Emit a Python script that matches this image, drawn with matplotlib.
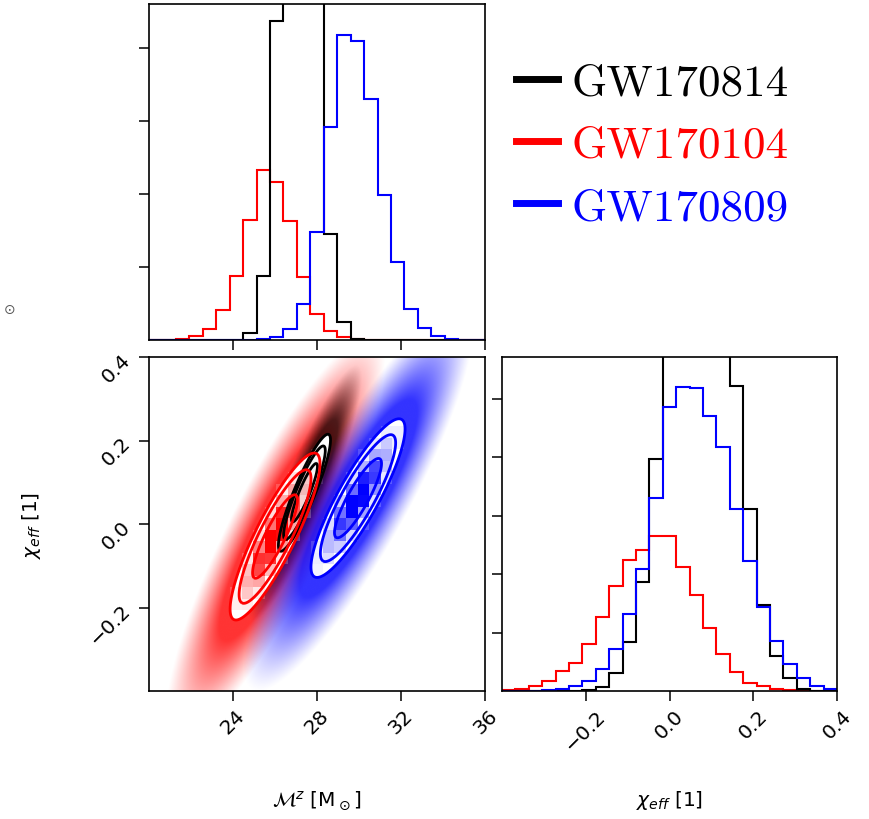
import numpy as np
import matplotlib.pyplot as plt
from matplotlib.colors import LinearSegmentedColormap, to_rgb
from matplotlib.lines import Line2D

# events, in legend order
events = ['GW170814', 'GW170104', 'GW170809']
colors = ['k', 'r', 'b']

# 1D marginals, 25 bins each (heights in units of the unlabeled ticks)
mass_edges = np.linspace(20, 36, 26)
chi_edges = np.linspace(-0.4, 0.4, 26)

mass_814 = [0, 0, 0, 0, 0, 0, 0, 0.09, 0.88, 4.37, 7.2, 8.2, 6.8, 1.45, 0.25, 0.02,
            0, 0, 0, 0, 0, 0, 0, 0, 0]
mass_104 = [0, 0.005, 0.02, 0.055, 0.155, 0.41, 0.88, 1.65, 2.33, 2.17, 1.63, 0.86, 0.35,
            0.12, 0.045, 0.01, 0, 0, 0, 0, 0, 0, 0, 0, 0]
mass_809 = [0, 0, 0, 0, 0, 0, 0, 0, 0.01, 0.045, 0.155, 0.50, 1.48, 2.92, 4.17, 4.10,
            3.30, 1.98, 1.07, 0.42, 0.17, 0.055, 0.02, 0.005, 0]

chi_814 = [0, 0, 0, 0, 0, 0, 0.02, 0.06, 0.31, 0.84, 1.87, 3.97, 7.0, 8.6, 9.2, 8.6, 7.2,
           5.21, 3.12, 1.47, 0.59, 0.23, 0.03, 0.005, 0]
chi_104 = [0.01, 0.04, 0.09, 0.17, 0.34, 0.48, 0.81, 1.27, 1.80, 2.24, 2.41, 2.65, 2.65,
           2.12, 1.64, 1.07, 0.64, 0.32, 0.14, 0.09, 0.04, 0.017, 0.01, 0.005, 0]
chi_809 = [0, 0, 0.005, 0.01, 0.04, 0.085, 0.17, 0.37, 0.71, 1.31, 2.08, 3.30, 4.85, 5.19,
           5.18, 4.71, 4.17, 3.12, 2.22, 1.43, 0.86, 0.46, 0.23, 0.086, 0.03]

mass_hists = [mass_814, mass_104, mass_809]
chi_hists = [chi_814, chi_104, chi_809]

# 2D posteriors: centre, spread, correlation
mean_mass = [27.4, 26.0, 29.95]
mean_chi = [0.075, -0.03, 0.062]
sd_mass = [0.62, 1.07, 1.12]
sd_chi = [0.07, 0.10, 0.095]
corr = [0.9, 0.87, 0.87]
cloud_reach = [4.4, 4.9, 4.9]

levels = [1.0, 1.6, 2.0]   # contour radii (sigma)

mass_ticks = [24, 28, 32, 36]
chi_ticks = [-0.2, 0.0, 0.2, 0.4]

plt.rcParams['axes.linewidth'] = 1.2
plt.rcParams['xtick.major.size'] = 7
plt.rcParams['ytick.major.size'] = 7
plt.rcParams['xtick.major.width'] = 1.1
plt.rcParams['ytick.major.width'] = 1.1
plt.rcParams['xtick.labelsize'] = 14.5
plt.rcParams['ytick.labelsize'] = 14.5


def mahal(M, C, i):
    dm = (M - mean_mass[i]) / sd_mass[i]
    dc = (C - mean_chi[i]) / sd_chi[i]
    return np.sqrt((dm**2 - 2 * corr[i] * dm * dc + dc**2) / (1 - corr[i]**2))


fig = plt.figure(figsize=(8.69, 8.2), dpi=100)
ax_m = fig.add_axes([0.1715, 0.5841, 0.3867, 0.4098])
ax_2d = fig.add_axes([0.1715, 0.1561, 0.3867, 0.4073])
ax_c = fig.add_axes([0.5777, 0.1561, 0.3855, 0.4073])

# marginal histograms
for i in [1, 0, 2]:
    ax_m.stairs(mass_hists[i], mass_edges, color=colors[i], lw=1.5)
    ax_c.stairs(chi_hists[i], chi_edges, color=colors[i], lw=1.5)

ax_m.set_xlim(20, 36)
ax_m.set_ylim(0, 4.6)
ax_m.set_xticks(mass_ticks)
ax_m.set_xticklabels([])
ax_m.set_yticks([1, 2, 3, 4])
ax_m.set_yticklabels([])

ax_c.set_xlim(-0.4, 0.4)
ax_c.set_ylim(0, 5.71)
ax_c.set_xticks(chi_ticks)
ax_c.set_xticklabels([f'{t:.1f}'.replace('-', '\u2212') for t in chi_ticks], rotation=45)
ax_c.set_yticks([1, 2, 3, 4, 5])
ax_c.set_yticklabels([])
ax_c.set_xlabel(r'$\chi_{eff}$ [1]', fontsize=14.5)
ax_c.xaxis.set_label_coords(0.5, -0.29)

# 2D panel
mg = np.linspace(20, 36, 561)
cg = np.linspace(-0.4, 0.4, 561)
M, C = np.meshgrid(mg, cg)

me = np.linspace(20, 36, 30)
ce = np.linspace(-0.4, 0.4, 30)
Mc, Cc = np.meshgrid(0.5 * (me[1:] + me[:-1]), 0.5 * (ce[1:] + ce[:-1]))

# sample clouds
for i in [1, 0, 2]:
    r = mahal(M, C, i)
    a = np.clip((cloud_reach[i] - r) / (cloud_reach[i] - 2.5), 0, 1) ** 1.2
    a = a * (0.7 if colors[i] == 'k' else 0.8)
    img = np.zeros(M.shape + (4,))
    img[..., :3] = to_rgb(colors[i])
    img[..., 3] = a
    ax_2d.imshow(img, origin='lower', extent=[20, 36, -0.4, 0.4], aspect='auto',
                 interpolation='bilinear', zorder=1)

# filled contours + density blocks
for i in [0, 1, 2]:
    r = mahal(M, C, i)
    ax_2d.contourf(M, C, r, levels=[0, levels[-1]], colors='white', zorder=2)
    rc = mahal(Mc, Cc, i)
    dens = np.exp(-0.5 * rc**2)
    dens[rc > 1.85] = np.nan
    cmap = LinearSegmentedColormap.from_list('d', [(1, 1, 1, 0), to_rgb(colors[i]) + (1,)])
    ax_2d.pcolormesh(me, ce, dens, cmap=cmap, vmin=0,
                     vmax=0.85 if colors[i] != 'k' else 3.0, zorder=3)

for i in [0, 1, 2]:
    r = mahal(M, C, i)
    ax_2d.contour(M, C, r, levels=levels, colors=colors[i], linewidths=2.0, zorder=4)

ax_2d.set_xlim(20, 36)
ax_2d.set_ylim(-0.4, 0.4)
ax_2d.set_xticks(mass_ticks)
ax_2d.set_xticklabels([str(t) for t in mass_ticks], rotation=45)
ax_2d.set_yticks(chi_ticks)
ax_2d.set_yticklabels([f'{t:.1f}'.replace('-', '\u2212') for t in chi_ticks], rotation=45)
ax_2d.set_xlabel(r'$\mathcal{M}^z$ [M$_\odot$]', fontsize=14.5)
ax_2d.xaxis.set_label_coords(0.5, -0.29)
ax_2d.set_ylabel(r'$\chi_{eff}$ [1]', fontsize=14.5)
ax_2d.yaxis.set_label_coords(-0.315, 0.5)

# legend
handles = [Line2D([], [], color=c, lw=5) for c in colors]
fig.legend(handles, events, loc='upper left', bbox_to_anchor=(0.594, 0.922),
           frameon=False, prop={'family': 'cmr10', 'size': 32.5}, labelcolor=colors,
           handlelength=0.92, handletextpad=0.3, labelspacing=0.48, borderpad=0,
           borderaxespad=0)

fig.text(0.004, 1 - 310 / 820, r'$\odot$', fontsize=10, color='0.35', va='center')

fig.savefig('out.png', dpi=100)
